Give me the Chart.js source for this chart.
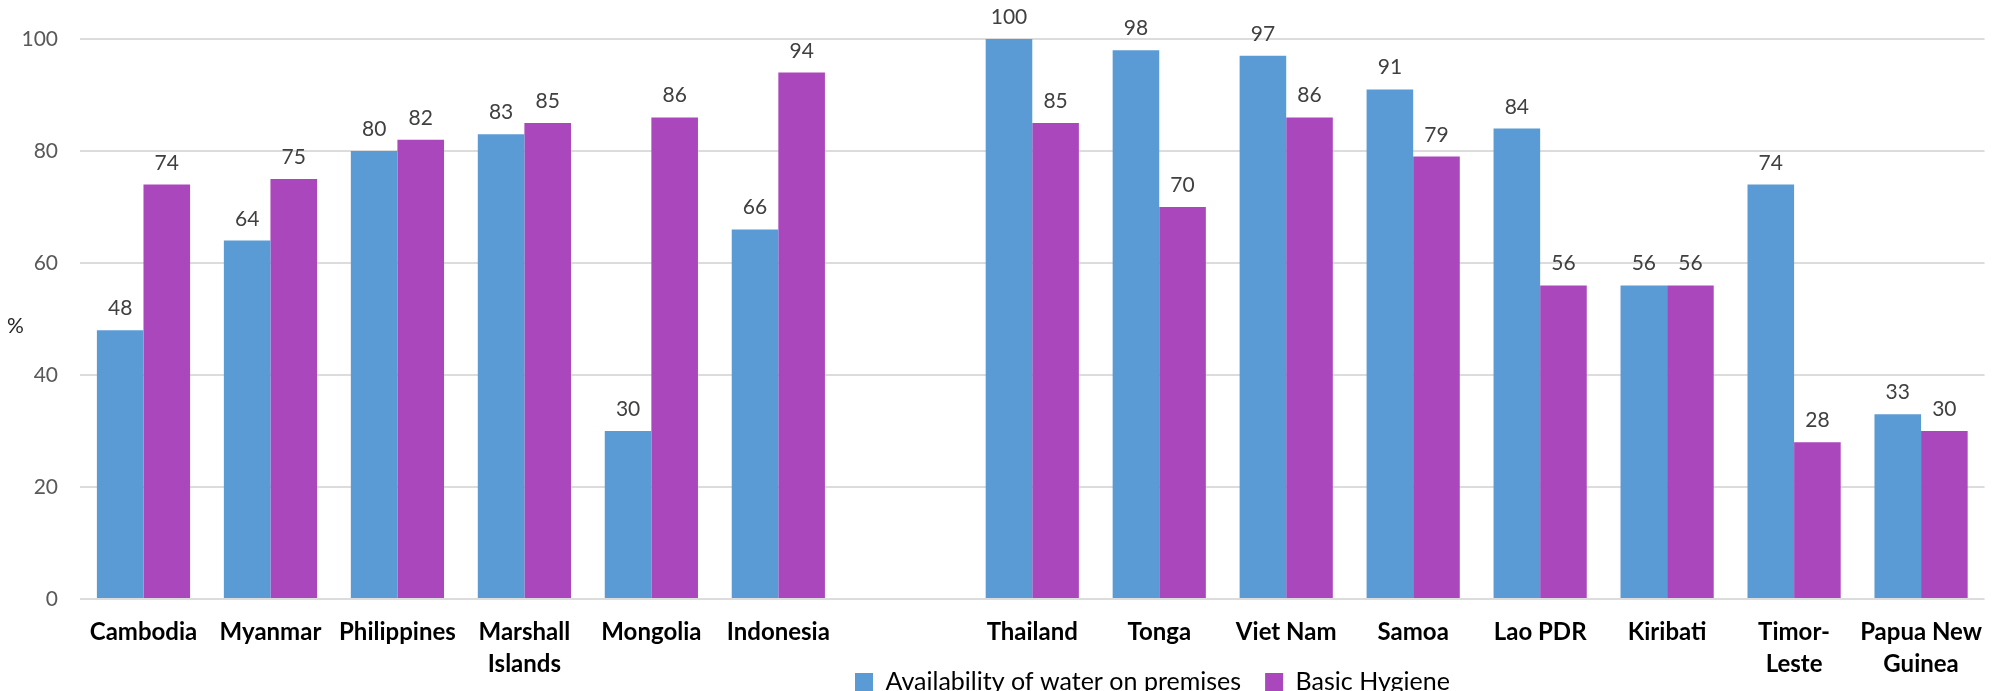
<!DOCTYPE html>
<html>
<head>
<meta charset="utf-8">
<script src="https://cdn.jsdelivr.net/npm/chart.js@4/dist/chart.umd.min.js"></script>
<style>
  html, body { margin: 0; padding: 0; overflow: hidden; background: #ffffff; }
  #wrap { width: 2000px; height: 743px; }
</style>
</head>
<body>
<div id="wrap"><canvas id="chart" width="2000" height="743"></canvas></div>
<script>
// Countries (an empty slot separates the two groups)
const categories = [
  'Cambodia', 'Myanmar', 'Philippines', ['Marshall', 'Islands'], 'Mongolia', 'Indonesia',
  '',
  'Thailand', 'Tonga', 'Viet Nam', 'Samoa', 'Lao PDR', 'Kiribati', ['Timor-', 'Leste'], ['Papua New', 'Guinea']
];

// Percent of schools
const waterOnPremises = [48, 64, 80, 83, 30, 66, null, 100, 98, 97, 91, 84, 56, 74, 33];
const basicHygiene    = [74, 75, 82, 85, 86, 94, null, 85, 70, 86, 79, 56, 56, 28, 30];

const seriesNames = ['Availability of water on premises', 'Basic Hygiene'];
const yTicks = [0, 20, 40, 60, 80, 100];

const FONT = 'Lato, "Open Sans", sans-serif';
const BLUE = '#5b9bd5';
const PURPLE = '#ab47bc';

// value labels above each bar
const valueLabels = {
  id: 'valueLabels',
  afterDatasetsDraw(chart) {
    const ctx = chart.ctx;
    ctx.save();
    ctx.font = '21px ' + FONT;
    ctx.fillStyle = '#404040';
    ctx.textAlign = 'center';
    ctx.textBaseline = 'alphabetic';
    chart.data.datasets.forEach((ds, i) => {
      const meta = chart.getDatasetMeta(i);
      meta.data.forEach((bar, j) => {
        const v = ds.data[j];
        if (v === null || v === undefined) return;
        ctx.fillText(String(v), bar.x, bar.y - 15);
      });
    });
    ctx.restore();
  }
};

// horizontal "%" unit label beside the value axis
const unitLabel = {
  id: 'unitLabel',
  afterDraw(chart) {
    const { ctx, chartArea } = chart;
    ctx.save();
    ctx.font = '21px ' + FONT;
    ctx.fillStyle = '#262626';
    ctx.textAlign = 'left';
    ctx.textBaseline = 'middle';
    ctx.fillText('%', 7, (chartArea.top + chartArea.bottom) / 2 + 7);
    ctx.restore();
  }
};

// place the legend row below the country names
const legendPlacement = {
  id: 'legendPlacement',
  afterLayout(chart) {
    const lg = chart.legend;
    if (!lg || !lg.lineWidths) return;
    const pad = lg.options.labels.padding;
    const startX = (lg.left + pad + lg.right - lg.lineWidths[0]) / 2;
    const dx = 855 - startX;
    lg.left += dx; lg.right += dx;
    const itemH = Math.max(lg.options.labels.font.size, lg.options.labels.boxHeight);
    const dy = 682 - (lg.top + pad + itemH / 2);
    lg.top += dy; lg.bottom += dy;
  }
};

new Chart(document.getElementById('chart'), {
  type: 'bar',
  data: {
    labels: categories,
    datasets: [
      { label: seriesNames[0], data: waterOnPremises, backgroundColor: BLUE, borderWidth: 0 },
      { label: seriesNames[1], data: basicHygiene, backgroundColor: PURPLE, borderWidth: 0 }
    ]
  },
  options: {
    responsive: false,
    animation: false,
    devicePixelRatio: 1,
    layout: { padding: { top: 39, bottom: 0, left: 0, right: 0 } },
    datasets: { bar: { categoryPercentage: 0.734, barPercentage: 1.0 } },
    scales: {
      x: {
        offset: true,
        grid: { display: false, drawTicks: false },
        border: { display: false },
        ticks: {
          autoSkip: false,
          maxRotation: 0,
          minRotation: 0,
          padding: 18,
          color: '#000000',
          font: { family: FONT, size: 24, weight: 'bold', lineHeight: 1.3 }
        },
        afterFit(scale) { scale.height = 85; }
      },
      y: {
        min: 0,
        max: 100,
        afterBuildTicks(scale) { scale.ticks = yTicks.map(v => ({ value: v })); },
        grid: { color: '#dcdcdc', lineWidth: 2, drawTicks: false },
        border: { display: false },
        ticks: {
          padding: 22,
          color: '#595959',
          font: { family: FONT, size: 21 }
        },
        afterFit(scale) { scale.width = 80; }
      }
    },
    plugins: {
      legend: {
        position: 'bottom',
        labels: {
          boxWidth: 18,
          boxHeight: 18,
          padding: 24,
          color: '#000000',
          font: { family: FONT, size: 25 }
        }
      },
      tooltip: { enabled: false },
      title: { display: false }
    }
  },
  plugins: [valueLabels, unitLabel, legendPlacement]
});
</script>
</body>
</html>
